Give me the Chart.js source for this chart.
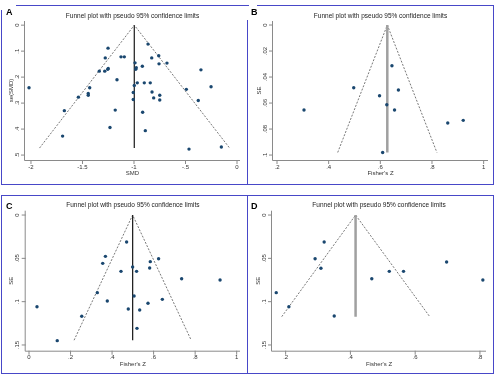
<!DOCTYPE html>
<html>
<head>
<meta charset="utf-8">
<script src="https://cdn.jsdelivr.net/npm/chart.js@4"></script>
<style>
  html,body{margin:0;padding:0;background:#fff;}
  body{width:495px;height:377px;position:relative;overflow:hidden;}
  canvas{position:absolute;}
  .b{position:absolute;background:#4848c8;}
</style>
</head>
<body>
<canvas id="cA" width="247" height="190" style="left:0;top:0"></canvas>
<canvas id="cB" width="248" height="190" style="left:247px;top:0"></canvas>
<canvas id="cC" width="247" height="187" style="left:0;top:190px"></canvas>
<canvas id="cD" width="248" height="187" style="left:247px;top:190px"></canvas>
<!-- panel frames -->
<div class="b" style="left:16px;top:5px;width:233px;height:1px"></div>
<div class="b" style="left:257px;top:5px;width:237px;height:1px"></div>
<div class="b" style="left:1px;top:10px;width:1px;height:175px"></div>
<div class="b" style="left:493px;top:5px;width:1px;height:180px"></div>
<div class="b" style="left:1px;top:184px;width:493px;height:1px"></div>
<div class="b" style="left:247px;top:20px;width:1px;height:165px"></div>
<div class="b" style="left:1px;top:195px;width:493px;height:1px"></div>
<div class="b" style="left:1px;top:195px;width:1px;height:179px"></div>
<div class="b" style="left:493px;top:195px;width:1px;height:179px"></div>
<div class="b" style="left:1px;top:373px;width:493px;height:1px"></div>
<div class="b" style="left:247px;top:195px;width:1px;height:179px"></div>
<script>
// ---------- DATA ----------
const titleText = 'Funnel plot with pseudo 95% confidence limits';

// Panel A
const smdA = [-1.252,-1.279,-1.126,-1.094,-1.337,-1.284,-1.255,-1.250,-1.165,-1.430,-1.444,-1.444,-1.182,
  -0.864,-0.828,-0.760,-0.757,-0.680,-0.990,-0.978,-0.983,-0.919,-0.968,-0.900,-0.842,-0.997,-1.007,-0.825,
  -0.809,-0.750,-0.750,-1.007,-2.019,-1.540,-1.676,-1.693,-1.233,-0.916,-0.890,-0.492,-0.350,-0.252,-0.376,
  -0.466,-0.152];
const seA = [0.0885,0.126,0.122,0.122,0.177,0.177,0.170,0.167,0.210,0.241,0.263,0.270,0.327,
  0.073,0.126,0.118,0.149,0.146,0.145,0.164,0.170,0.158,0.222,0.222,0.222,0.232,0.259,0.257,
  0.280,0.270,0.288,0.286,0.241,0.277,0.329,0.427,0.394,0.335,0.406,0.247,0.172,0.237,0.290,
  0.477,0.469];
const funnelXA = [-1.917,-0.997,-0.072];
const funnelYA = [0.473,0,0.473];
const centerXA = [-0.997,-0.997];
const centerYA = [0,0.473];
const xTicksA = [-2,-1.5,-1,-0.5,0];
const xTickLabelsA = ['-2','-1.5','-1','-.5','0'];
const yTicksA = [0,0.1,0.2,0.3,0.4,0.5];
const yTickLabelsA = ['0','.1','.2','.3','.4','.5'];

// Panel B
const zB = [0.3045,0.497,0.597,0.645,0.670,0.625,0.655,0.609,0.861,0.921];
const seB = [0.0654,0.0482,0.0544,0.0313,0.050,0.0613,0.0654,0.098,0.0754,0.0733];
const funnelXB = [0.435,0.627,0.819];
const funnelYB = [0.098,0,0.098];
const centerXB = [0.627,0.627];
const centerYB = [0,0.098];
const xTicksB = [0.2,0.4,0.6,0.8,1];
const xTickLabelsB = ['.2','.4','.6','.8','1'];
const yTicksB = [0,0.02,0.04,0.06,0.08,0.1];
const yTickLabelsB = ['0','.02','.04','.06','.08','.1'];

// Panel C
const zC = [0.470,0.368,0.355,0.584,0.624,0.499,0.443,0.518,0.581,0.735,0.920,0.329,0.506,0.377,
  0.642,0.573,0.0385,0.478,0.533,0.254,0.520,0.136];
const seC = [0.0312,0.0477,0.0558,0.0538,0.0504,0.060,0.065,0.065,0.0612,0.0735,0.075,0.0896,0.0935,
  0.0992,0.0973,0.1019,0.1058,0.1085,0.1096,0.1169,0.1308,0.145];
const funnelXC = [0.217,0.499,0.781];
const funnelYC = [0.1445,0,0.1445];
const centerXC = [0.499,0.499];
const centerYC = [0,0.1445];
const xTicksC = [0,0.2,0.4,0.6,0.8,1];
const xTickLabelsC = ['0','.2','.4','.6','.8','1'];
const yTicksC = [0,0.05,0.1,0.15];
const yTickLabelsC = ['0','.05','.1','.15'];

// Panel D
const zD = [0.171,0.210,0.291,0.319,0.309,0.350,0.466,0.520,0.564,0.697,0.809];
const seD = [0.0896,0.1058,0.0504,0.0312,0.0615,0.1165,0.0735,0.065,0.065,0.0542,0.075];
const funnelXD = [0.188,0.416,0.645];
const funnelYD = [0.1173,0,0.1173];
const centerXD = [0.416,0.416];
const centerYD = [0,0.1173];
const xTicksD = [0.2,0.4,0.6,0.8];
const xTickLabelsD = ['.2','.4','.6','.8'];
const yTicksD = [0,0.05,0.1,0.15];
const yTickLabelsD = ['0','.05','.1','.15'];

// ---------- DRAWING ----------
const FONT = '"Liberation Sans", Arial, Helvetica, sans-serif';
const pair = (xs, ys) => xs.map((x, i) => ({x: x, y: ys[i]}));

function axisPlugin(o) {
  return {
    id: 'stataAxes' + o.label,
    beforeDatasetsDraw(chart) {
      const ctx = chart.ctx;
      const a = chart.chartArea;
      const sx = chart.scales.x, sy = chart.scales.y;
      ctx.save();
      ctx.strokeStyle = '#8a8a8a';
      ctx.lineWidth = 1;
      ctx.beginPath();
      ctx.moveTo(a.left - 0.5, a.top);
      ctx.lineTo(a.left - 0.5, a.bottom + 0.5);
      ctx.moveTo(a.left - 0.5, a.bottom + 0.5);
      ctx.lineTo(a.right, a.bottom + 0.5);
      ctx.stroke();
      // y ticks
      ctx.fillStyle = '#333';
      ctx.font = '6px ' + FONT;
      o.yTicks.forEach((v, i) => {
        const py = sy.getPixelForValue(v);
        ctx.beginPath();
        ctx.moveTo(a.left - 4, py);
        ctx.lineTo(a.left, py);
        ctx.stroke();
        ctx.save();
        ctx.translate(a.left - 8, py);
        ctx.rotate(-Math.PI / 2);
        ctx.textAlign = 'center';
        ctx.textBaseline = 'middle';
        ctx.fillText(o.yLabels[i], 0, 0);
        ctx.restore();
      });
      // x ticks
      o.xTicks.forEach((v, i) => {
        const px = sx.getPixelForValue(v);
        ctx.beginPath();
        ctx.moveTo(px, a.bottom);
        ctx.lineTo(px, a.bottom + 4);
        ctx.stroke();
        ctx.textAlign = 'center';
        ctx.textBaseline = 'middle';
        ctx.fillText(o.xLabels[i], px, a.bottom + 7);
      });
      // axis titles
      ctx.font = '6px ' + FONT;
      ctx.fillText(o.xTitle, (a.left + a.right) / 2, a.bottom + 13.5);
      ctx.save();
      ctx.translate(a.left - 14, (a.top + a.bottom) / 2);
      ctx.rotate(-Math.PI / 2);
      ctx.fillText(o.yTitle, 0, 0);
      ctx.restore();
      // panel title
      ctx.fillStyle = '#222';
      ctx.font = '6.5px ' + FONT;
      ctx.fillText(titleText, (a.left + a.right) / 2, o.titleY);
      // panel letter
      ctx.fillStyle = '#000';
      ctx.font = 'bold 9px ' + FONT;
      ctx.textAlign = 'left';
      ctx.textBaseline = 'alphabetic';
      ctx.fillText(o.label, o.labelX, o.labelY);
      ctx.restore();
    }
  };
}

function build(o) {
  new Chart(document.getElementById(o.id), {
    type: 'scatter',
    data: {
      datasets: [
        {data: pair(o.xs, o.ys), pointRadius: 1.7, pointBorderWidth: 0,
         pointBackgroundColor: '#1a476f', pointBorderColor: '#1a476f', showLine: false},
        {data: pair(o.cx, o.cy), showLine: true, pointRadius: 0,
         borderColor: o.centerColor, borderWidth: o.centerWidth},
        {data: pair(o.fx, o.fy), showLine: true, pointRadius: 0,
         borderColor: '#555', borderWidth: 0.8, borderDash: [2, 1.5]}
      ]
    },
    options: {
      responsive: false, animation: false, events: [],
      layout: {padding: o.pad},
      plugins: {legend: {display: false}, tooltip: {enabled: false}, title: {display: false}},
      scales: {
        x: {type: 'linear', display: false, min: o.xMin, max: o.xMax},
        y: {type: 'linear', display: false, reverse: true, min: o.yMin, max: o.yMax}
      }
    },
    plugins: [axisPlugin(o)]
  });
}

build({id: 'cA', label: 'A', labelX: 6, labelY: 15, titleY: 16,
  xs: smdA, ys: seA, fx: funnelXA, fy: funnelYA, cx: centerXA, cy: centerYA,
  xTicks: xTicksA, xLabels: xTickLabelsA, yTicks: yTicksA, yLabels: yTickLabelsA,
  xTitle: 'SMD', yTitle: 'se(SMD)', centerColor: '#2a2a2a', centerWidth: 1.3,
  pad: {left: 25, right: 7, top: 21, bottom: 30}, xMin: -2.058, xMax: 0.029, yMin: -0.016, yMax: 0.519});

build({id: 'cB', label: 'B', labelX: 4, labelY: 15, titleY: 16,
  xs: zB, ys: seB, fx: funnelXB, fy: funnelYB, cx: centerXB, cy: centerYB,
  xTicks: xTicksB, xLabels: xTickLabelsB, yTicks: yTicksB, yLabels: yTickLabelsB,
  xTitle: "Fisher's Z", yTitle: 'SE', centerColor: '#a0a0a0', centerWidth: 2.5,
  pad: {left: 26, right: 7, top: 21, bottom: 30}, xMin: 0.1845, xMax: 1.0168, yMin: -0.0031, yMax: 0.1038});

build({id: 'cC', label: 'C', labelX: 6, labelY: 19, titleY: 15.7,
  xs: zC, ys: seC, fx: funnelXC, fy: funnelYC, cx: centerXC, cy: centerYC,
  xTicks: xTicksC, xLabels: xTickLabelsC, yTicks: yTicksC, yLabels: yTickLabelsC,
  xTitle: "Fisher's Z", yTitle: 'SE', centerColor: '#222', centerWidth: 1.3,
  pad: {left: 25.7, right: 7, top: 20.7, bottom: 26.3}, xMin: -0.0159, xMax: 1.016, yMin: -0.005, yMax: 0.1566});

build({id: 'cD', label: 'D', labelX: 4, labelY: 18.5, titleY: 15.7,
  xs: zD, ys: seD, fx: funnelXD, fy: funnelYD, cx: centerXD, cy: centerYD,
  xTicks: xTicksD, xLabels: xTickLabelsD, yTicks: yTicksD, yLabels: yTickLabelsD,
  xTitle: "Fisher's Z", yTitle: 'SE', centerColor: '#a0a0a0', centerWidth: 2.5,
  pad: {left: 25, right: 9, top: 20.7, bottom: 26.3}, xMin: 0.1579, xMax: 0.8187, yMin: -0.005, yMax: 0.1566});
</script>
</body>
</html>
